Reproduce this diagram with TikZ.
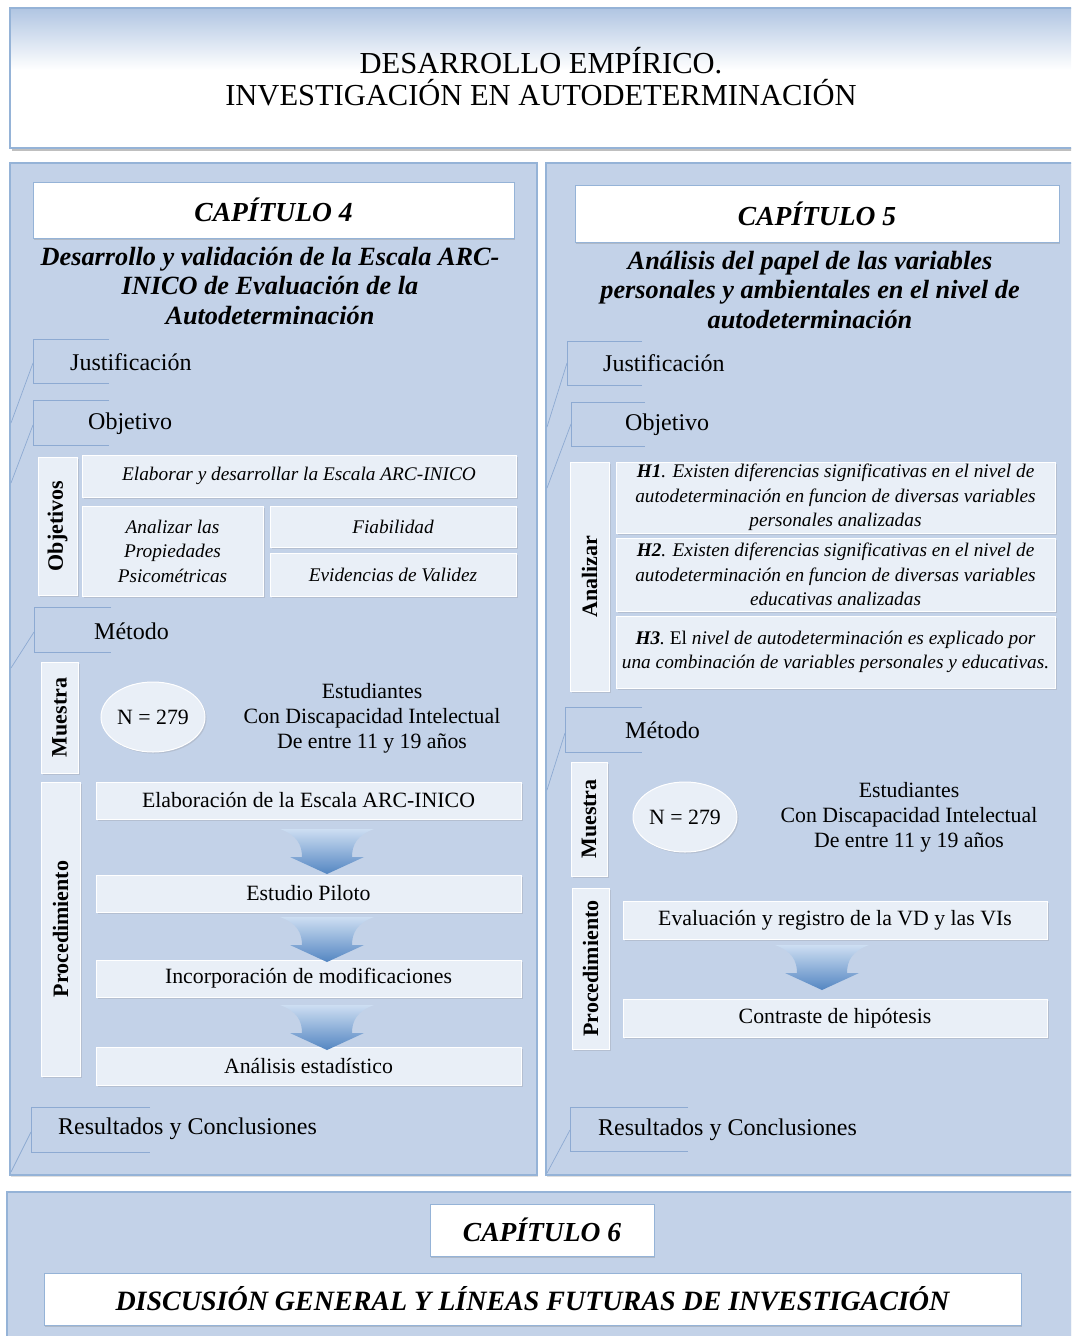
\documentclass[tikz,border=0pt]{standalone}
\usepackage{fontspec}
\setmainfont{Liberation Serif}
\usetikzlibrary{shadows,shapes.geometric}

\definecolor{panelfill}{RGB}{195,210,232}
\definecolor{panelline}{RGB}{149,179,215}
\definecolor{boxfill}{RGB}{233,239,247}
\definecolor{brkline}{RGB}{141,170,210}
\definecolor{arrowtop}{RGB}{205,222,242}
\definecolor{arrowbot}{RGB}{84,134,194}
\definecolor{titleband}{RGB}{176,197,226}

\newcommand{\fTitle}{\fontsize{30.5}{32}\selectfont}
\newcommand{\fCap}{\fontsize{27.5}{30}\selectfont\bfseries\itshape}
\newcommand{\fSub}{\fontsize{26.3}{29.5}\selectfont\bfseries\itshape}
\newcommand{\fBrk}{\fontsize{24}{28}\selectfont}
\newcommand{\fBody}{\fontsize{21.8}{25}\selectfont}
\newcommand{\fHyp}{\fontsize{19.3}{24.5}\selectfont\itshape}
\newcommand{\fVert}{\fontsize{22}{24}\selectfont\bfseries}
\newcommand{\fDisc}{\fontsize{28}{32}\selectfont\bfseries\itshape}

% funnel-shaped block arrow: #1 = x of centre, #2 = y of top edge
\newcommand{\flowarrow}[2]{%
  \shade[top color=arrowtop, bottom color=arrowbot]
    (#1-47,#2) -- (#1+47,#2)
    .. controls (#1+30,#2+6) and (#1+25,#2+16) .. (#1+25,#2+28)
    -- (#1+37,#2+28) -- (#1,#2+45) -- (#1-37,#2+28) -- (#1-25,#2+28)
    .. controls (#1-25,#2+16) and (#1-30,#2+6) .. (#1-47,#2) -- cycle;}

\tikzset{
  panel/.style={fill=panelfill, draw=panelline, line width=1.6pt,
    drop shadow={shadow xshift=1pt, shadow yshift=-2pt, opacity=0.25}},
  capbox/.style={fill=white, draw=panelline, line width=0.8pt, inner sep=0pt, font=\fCap,
    drop shadow={shadow xshift=0.8pt, shadow yshift=-2.2pt, opacity=0.3}},
  ibox/.style={fill=boxfill, draw=white, line width=1pt, inner sep=0pt, align=center,
    drop shadow={shadow xshift=1.5pt, shadow yshift=-1.5pt, opacity=0.22}},
  vtext/.style={rotate=90, font=\fVert, inner sep=0pt},
  brk/.style={draw=brkline, line width=0.9pt},
  diag/.style={draw=brkline, line width=0.7pt},
  lbl/.style={anchor=west, inner sep=0pt, font=\fBrk},
  txt/.style={inner sep=0pt, align=center},
}

\begin{document}
\begin{tikzpicture}[x=1pt,y=-1pt]
\useasboundingbox (0,0) rectangle (1071,1336);
\clip (0,0) rectangle (1071,1336);
\fill[white] (0,0) rectangle (1071,1336);

% ---------- title banner ----------
\fill[black!25] (12,148) rectangle (1090,151);
\fill[white] (10,8) rectangle (1090,148);
\shade[top color=titleband, bottom color=white] (10,8) rectangle (1090,70);
\draw[panelline, line width=2.2pt] (1090,8) -- (10,8) -- (10,148) -- (1090,148);
\node[txt, font=\fTitle] (title) at (541,77)
  {DESARROLLO EMPÍRICO.\\INVESTIGACIÓN EN AUTODETERMINACIÓN};

% ---------- background panels ----------
\path[panel] (10,163) rectangle (537,1175);
\path[panel] (546,163) rectangle (1090,1175);
\path[panel] (7,1192) rectangle (1090,1350);

% ================= CHAPTER 4 =================
\node[capbox, minimum width=481pt, minimum height=56pt] (cap4) at (273.5,210) {CAPÍTULO 4};
\node[txt, font=\fSub] (sub4) at (270,286)
  {Desarrollo y validación de la Escala ARC-\\INICO de Evaluación de la\\Autodeterminación};

\draw[brk] (109,339) -- (33,339) -- (33,383) -- (109,383);
\draw[diag] (11,423) -- (33,363);
\node[lbl] (just4) at (70,362) {Justificación};

\draw[brk] (109,400) -- (33,400) -- (33,445) -- (109,445);
\draw[diag] (11,483) -- (33,425);
\node[lbl] (obj4) at (88,424) {Objetivo};

\node[ibox, minimum width=39pt, minimum height=138pt] (objv) at (57.5,526) {};
\node[vtext] (objvt) at (objv.center) {Objetivos};
\node[ibox, minimum width=434pt, minimum height=42pt, font=\fHyp] (elab) at (299,476)
  {Elaborar y desarrollar la Escala ARC-INICO};
\node[ibox, minimum width=181pt, minimum height=90pt, font=\fHyp] (anal) at (172.5,551)
  {Analizar las\\Propiedades\\Psicométricas};
\node[ibox, minimum width=246pt, minimum height=41pt, font=\fHyp] (fiab) at (393,526.5) {Fiabilidad};
\node[ibox, minimum width=246pt, minimum height=43pt, font=\fHyp] (evid) at (393,574.5) {Evidencias de Validez};

\draw[brk] (111,607) -- (34,607) -- (34,652) -- (111,652);
\draw[diag] (11,668) -- (34,632);
\node[lbl] (met4) at (94,631) {Método};

\node[ibox, minimum width=37pt, minimum height=111pt] (muev) at (59.5,717.5) {};
\node[vtext] (muevt) at (muev.center) {Muestra};
\node[ellipse, fill=boxfill, draw=white, line width=1pt, minimum width=104pt, minimum height=70pt,
  inner sep=0pt, font=\fBody, drop shadow={shadow xshift=1.5pt, shadow yshift=-1.5pt, opacity=0.22}]
  (n4) at (153,717) {N = 279};
\node[txt, font=\fBody] (est4) at (372,718)
  {Estudiantes\\Con Discapacidad Intelectual\\De entre 11 y 19 años};

\node[ibox, minimum width=39pt, minimum height=294pt] (procv) at (60.5,929) {};
\node[vtext] (procvt) at (procv.center) {Procedimiento};
\node[ibox, minimum width=425pt, minimum height=37pt, font=\fBody] (p1) at (308.5,800.5)
  {Elaboración de la Escala ARC-INICO};
\node[ibox, minimum width=425pt, minimum height=37pt, font=\fBody] (p2) at (308.5,893.5)
  {Estudio Piloto};
\node[ibox, minimum width=425pt, minimum height=37pt, font=\fBody] (p3) at (308.5,978.5)
  {Incorporación de modificaciones};
\node[ibox, minimum width=425pt, minimum height=38pt, font=\fBody] (p4) at (308.5,1066)
  {Análisis estadístico};
\flowarrow{327}{829}
\flowarrow{327}{917}
\flowarrow{327}{1005}

\draw[brk] (150,1107) -- (31,1107) -- (31,1152) -- (150,1152);
\draw[diag] (11,1172) -- (31,1132);
\node[lbl] (res4) at (58,1129) {Resultados y Conclusiones};

% ================= CHAPTER 5 =================
\node[capbox, minimum width=484pt, minimum height=57pt] (cap5) at (817,213.5) {CAPÍTULO 5};
\node[txt, font=\fSub] (sub5) at (810,290)
  {Análisis del papel de las variables\\personales y ambientales en el nivel de\\autodeterminación};

\draw[brk] (642,341) -- (567,341) -- (567,385) -- (642,385);
\draw[diag] (547,427) -- (567,363);
\node[lbl] (just5) at (603,363) {Justificación};

\draw[brk] (645,402) -- (571,402) -- (571,446) -- (645,446);
\draw[diag] (547,488) -- (571,424);
\node[lbl] (obj5) at (625,425) {Objetivo};

\node[ibox, minimum width=39pt, minimum height=229pt] (anv) at (589.5,576.5) {};
\node[vtext] (anvt) at (anv.center) {Analizar};
\node[ibox, minimum width=439pt, minimum height=71pt, font=\fHyp] (h1) at (835.5,497.5)
  {\textbf{H1}. Existen diferencias significativas en el nivel de\\autodeterminación en funcion de diversas variables\\personales analizadas};
\node[ibox, minimum width=439pt, minimum height=73pt, font=\fHyp] (h2) at (835.5,574.5)
  {\textbf{H2}. Existen diferencias significativas en el nivel de\\autodeterminación en funcion de diversas variables\\educativas analizadas};
\node[ibox, minimum width=439pt, minimum height=72pt, font=\fHyp] (h3) at (835.5,652)
  {\textbf{H3}.\ {\upshape El} nivel de autodeterminación es explicado por\\una combinación de variables personales y educativas.};

\draw[brk] (642,707) -- (565,707) -- (565,752) -- (642,752);
\draw[diag] (547,790) -- (565,733);
\node[lbl] (met5) at (625,730) {Método};

\node[ibox, minimum width=36pt, minimum height=114pt] (muev5) at (589,819) {};
\node[vtext] (muevt5) at (muev5.center) {Muestra};
\node[ellipse, fill=boxfill, draw=white, line width=1pt, minimum width=104pt, minimum height=70pt,
  inner sep=0pt, font=\fBody, drop shadow={shadow xshift=1.5pt, shadow yshift=-1.5pt, opacity=0.22}]
  (n5) at (685,817) {N = 279};
\node[txt, font=\fBody] (est5) at (909,817)
  {Estudiantes\\Con Discapacidad Intelectual\\De entre 11 y 19 años};

\node[ibox, minimum width=37pt, minimum height=161pt] (procv5) at (590.5,968.5) {};
\node[vtext] (procvt5) at (procv5.center) {Procedimiento};
\node[ibox, minimum width=424pt, minimum height=38pt, font=\fBody] (q1) at (835,920)
  {Evaluación y registro de la VD y las VIs};
\node[ibox, minimum width=424pt, minimum height=38pt, font=\fBody] (q2) at (835,1018)
  {Contraste de hipótesis};
\flowarrow{822}{945}

\draw[brk] (688,1107) -- (570,1107) -- (570,1151) -- (688,1151);
\draw[diag] (547,1173) -- (570,1130);
\node[lbl] (res5) at (598,1130) {Resultados y Conclusiones};

% ================= CHAPTER 6 =================
\node[capbox, minimum width=224pt, minimum height=52pt] (cap6) at (542,1230) {CAPÍTULO 6};
\node[capbox, font=\fDisc, minimum width=977pt, minimum height=52pt] (disc) at (532.5,1299)
  {DISCUSIÓN GENERAL Y LÍNEAS FUTURAS DE INVESTIGACIÓN};
\end{tikzpicture}
\end{document}
